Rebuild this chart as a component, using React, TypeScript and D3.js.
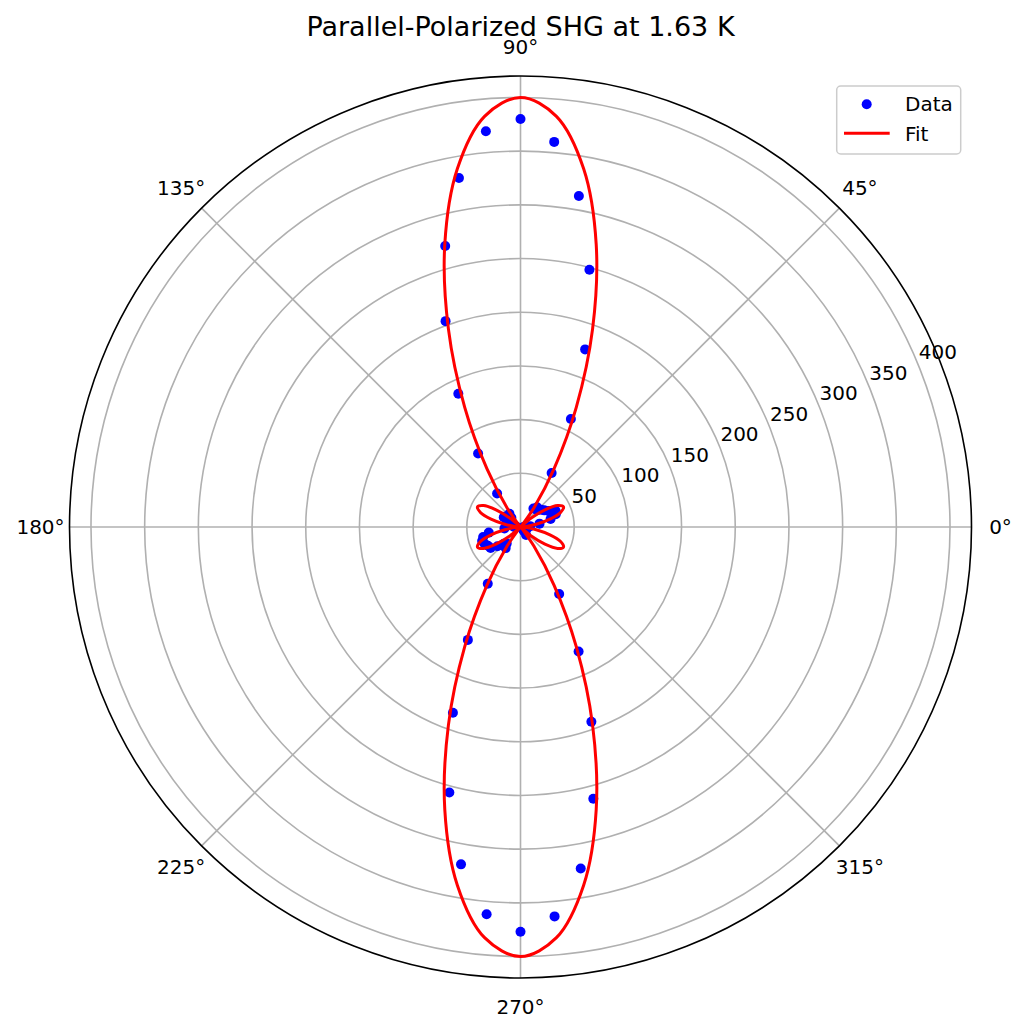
import * as d3 from 'd3';

// polarizer angle (deg) of every measurement / fit sample
const angleDeg = [
  0, 5, 10, 15, 20, 25, 30, 35, 40, 45, 50, 55,
  60, 65, 70, 75, 80, 85, 90, 95, 100, 105, 110, 115,
  120, 125, 130, 135, 140, 145, 150, 155, 160, 165, 170, 175,
  180, 185, 190, 195, 200, 205, 210, 215, 220, 225, 230, 235,
  240, 245, 250, 255, 260, 265, 270, 275, 280, 285, 290, 295,
  300, 305, 310, 315, 320, 325, 330, 335, 340, 345, 350, 355,
];

// measured SHG intensity
const dataIntensity = [
  3, 9, 18, 29, 35, 36, 30, 27, 25, 22, 24, 21,
  58, 111, 176, 248, 313, 360, 380, 370, 330, 271, 204, 137,
  79, 38, 16, 12, 13, 17, 18, 14, 9, 6, 5, 4,
  6, 15, 30, 36, 38, 37, 35, 34, 28, 22, 20, 24,
  61, 116, 184, 256, 319, 362, 377, 364, 323, 262, 193, 128,
  72, 9, 5, 3, 4, 3, 4, 5, 6, 5, 4, 3,
];

// fitted curve, read at the same angles
const fitIntensity = [
  0, 4.1, 14.9, 28.4, 39.7, 44.2, 39.9, 27.8, 12.6, 1.5, 2.4, 21.7,
  62.4, 122.9, 196.3, 272.4, 338.7, 383.9, 400, 383.9, 338.7, 272.4, 196.3, 122.9,
  62.4, 21.7, 2.4, 1.5, 12.6, 27.8, 39.9, 44.2, 39.7, 28.4, 14.9, 4.1,
  0, 4.1, 14.9, 28.4, 39.7, 44.2, 39.9, 27.8, 12.6, 1.5, 2.4, 21.7,
  62.4, 122.9, 196.3, 272.4, 338.7, 383.9, 400, 383.9, 338.7, 272.4, 196.3, 122.9,
  62.4, 21.7, 2.4, 1.5, 12.6, 27.8, 39.9, 44.2, 39.7, 28.4, 14.9, 4.1,
];

const radialTicks = [50, 100, 150, 200, 250, 300, 350, 400];
const angleTicks = [0, 45, 90, 135, 180, 225, 270, 315];

const W = 1027;
const H = 1033;
const cx = 520.5;
const cy = 527;
const R = 451;
const rMax = 420;
const font = "'DejaVu Sans', sans-serif";

export default function App() {
  const r = d3.scaleLinear().domain([0, rMax]).range([0, R]);
  // matplotlib polar: 0° east, counter-clockwise
  const theta = d3.scaleLinear().domain([0, 360]).range([0, 2 * Math.PI]);
  const px = (deg: number, v: number) => cx + r(v) * Math.cos(theta(deg));
  const py = (deg: number, v: number) => cy - r(v) * Math.sin(theta(deg));

  const fitPath = d3
    .lineRadial<number>()
    .angle((_, i) => Math.PI / 2 - theta(angleDeg[i]))
    .radius((d) => r(d))
    .curve(d3.curveCatmullRomClosed)(fitIntensity) as string;

  const rlabelAngle = 22.5;

  return (
    <svg
      width={W}
      height={H}
      style={{ position: 'absolute', left: 0, top: 0, background: '#fff' }}
      fontFamily={font}
    >
      <rect width={W} height={H} fill="#fff" />

      {/* grid */}
      <g stroke="#b0b0b0" strokeWidth={1.6} fill="none">
        {radialTicks.map((t) => (
          <circle key={t} cx={cx} cy={cy} r={r(t)} />
        ))}
        {angleTicks.map((a) => (
          <line key={a} x1={cx} y1={cy} x2={px(a, rMax)} y2={py(a, rMax)} />
        ))}
      </g>

      {/* data */}
      <g fill="#0000ff">
        {dataIntensity.map((v, i) => (
          <circle key={i} cx={px(angleDeg[i], v)} cy={py(angleDeg[i], v)} r={5} />
        ))}
      </g>

      {/* fit */}
      <path
        d={fitPath}
        transform={`translate(${cx},${cy})`}
        fill="none"
        stroke="#ff0000"
        strokeWidth={3}
        strokeLinejoin="round"
      />

      {/* outer spine */}
      <circle cx={cx} cy={cy} r={R} fill="none" stroke="#000" strokeWidth={1.6} />

      {/* radial tick labels */}
      <g fontSize={20} fill="#000">
        {radialTicks.map((t) => (
          <text
            key={t}
            x={px(rlabelAngle, t) + 1.5}
            y={py(rlabelAngle, t) - 3.5}
            textAnchor="start"
          >
            {t}
          </text>
        ))}
      </g>

      {/* angle tick labels */}
      <g fontSize={20} fill="#000">
        {angleTicks.map((a) => (
          <text
            key={a}
            x={cx + 480 * Math.cos(theta(a))}
            y={cy - 480 * Math.sin(theta(a))}
            dy="0.36em"
            textAnchor="middle"
          >
            {`${a}°`}
          </text>
        ))}
      </g>

      {/* title */}
      <text x={cx} y={35.5} textAnchor="middle" fontSize={27} fill="#000">
        Parallel-Polarized SHG at 1.63 K
      </text>

      {/* legend */}
      <g>
        <rect
          x={836.7}
          y={86}
          width={124}
          height={68}
          rx={4}
          fill="#fff"
          fillOpacity={0.8}
          stroke="#cccccc"
          strokeWidth={1.5}
        />
        <circle cx={866.7} cy={104.3} r={5} fill="#0000ff" />
        <text x={905} y={111.3} fontSize={20} fill="#000">
          Data
        </text>
        <line x1={844} x2={889.7} y1={133.3} y2={133.3} stroke="#ff0000" strokeWidth={3} />
        <text x={905} y={140.5} fontSize={20} fill="#000">
          Fit
        </text>
      </g>
    </svg>
  );
}
